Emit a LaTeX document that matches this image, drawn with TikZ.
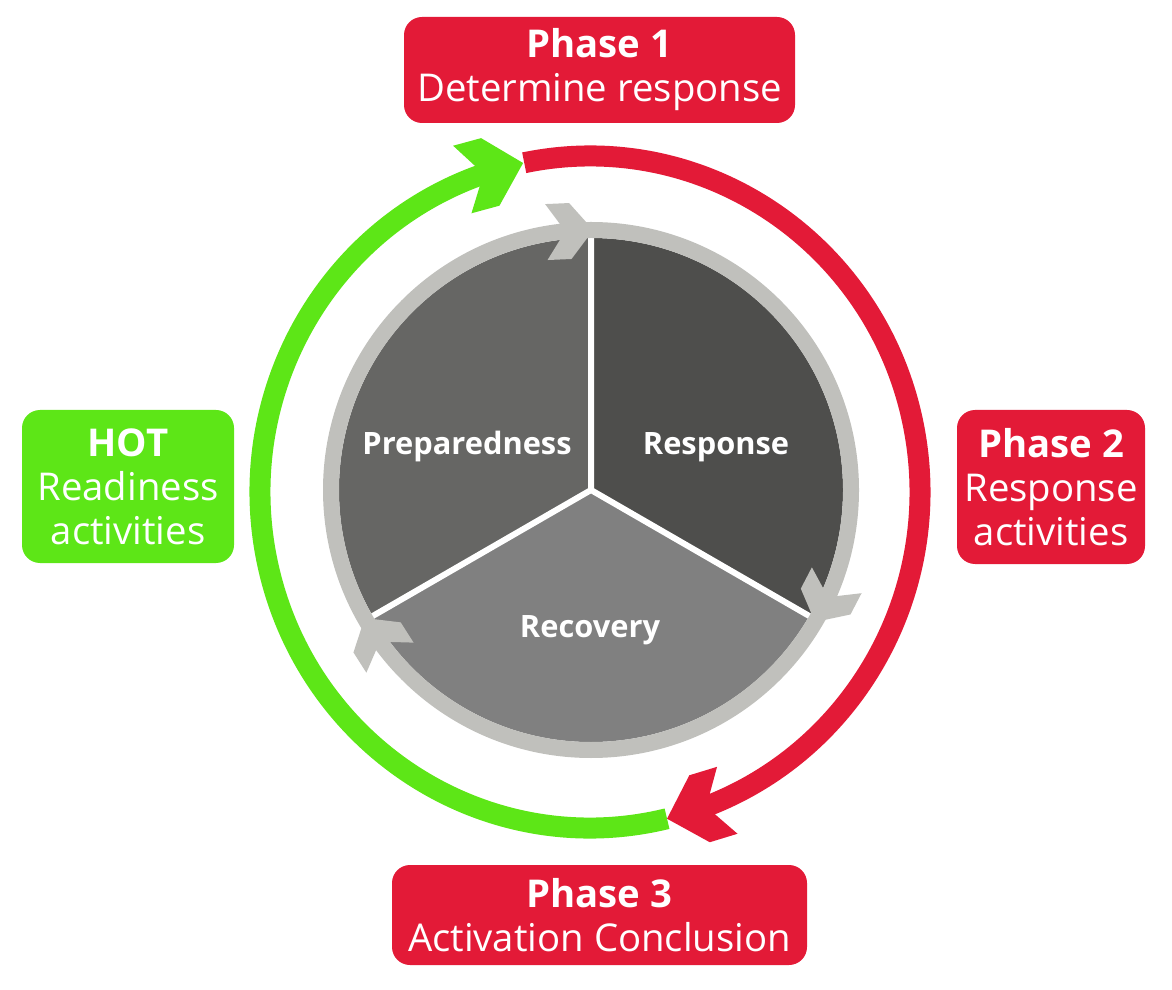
\documentclass[tikz,border=0pt]{standalone}
\usepackage{fontspec}
\setmainfont{Open Sans}
\usetikzlibrary{calc}
\definecolor{myred}{HTML}{E31A37}
\definecolor{mygreen}{HTML}{5DE617}
\definecolor{ringgray}{HTML}{C0C0BC}
\definecolor{pieA}{HTML}{4E4E4C}
\definecolor{pieB}{HTML}{666664}
\definecolor{pieC}{HTML}{808080}
\begin{document}
\begin{tikzpicture}[x=1pt,y=1pt,
  box/.style={rounded corners=18pt, text=white, align=center, inner sep=0pt,
    font=\fontsize{38.3}{44}\selectfont},
  pielabel/.style={text=white, anchor=base, inner sep=0pt,
    font=\bfseries\fontsize{30.8}{35}\selectfont},
]
\useasboundingbox (0,0) rectangle (1172,989);
\coordinate (Co) at (590,497);
\coordinate (Ci) at (591,499);

% pie
\fill[pieA] (Ci) -- ++(90:252) arc[start angle=90,end angle=-30,radius=252] -- cycle;
\fill[pieC] (Ci) -- ++(-30:252) arc[start angle=-30,end angle=-150,radius=252] -- cycle;
\fill[pieB] (Ci) -- ++(210:252) arc[start angle=210,end angle=90,radius=252] -- cycle;
\draw[white,line width=6] (Ci) -- ++(90:256) (Ci) -- ++(-30:256) (Ci) -- ++(210:256);
\fill[white] (Ci) circle[radius=3];

% gray ring
\draw[ringgray,line width=16] (Ci) circle[radius=260];
\coordinate (ga) at ($(Ci)+(89.5:260)$);
\coordinate (gb) at ($(Ci)+(-30.5:260)$);
\coordinate (gc) at ($(Ci)+(-150.5:260)$);
\foreach \p/\r in {ga/2.5, gb/-117.5, gc/122.5}{
  \fill[ringgray,shift={(\p)},rotate=\r] (0,0) -- (-23,28) -- (-47,28) -- (-28,0) -- (-47,-28) -- (-23,-28) -- cycle;
}

% outer cycle
\draw[myred,line width=21] ($(Co)+({330*cos(101.5)},{336*sin(101.5)})$)
  arc[start angle=101.5,end angle=-70,x radius=330,y radius=336];
\draw[mygreen,line width=21] ($(Co)+({330*cos(-76.5)},{336*sin(-76.5)})$)
  arc[start angle=-76.5,end angle=-251.8,x radius=330,y radius=336];
\coordinate (gt) at ($(Co)+({330*cos(101.7)},{336*sin(101.7)})$);
\coordinate (rt) at ($(Co)+({330*cos(-76.5)},{336*sin(-76.5)})$);
\fill[mygreen,shift={(gt)},rotate=15.2] (0,0) -- (-34,35) -- (-63,35) -- (-41,0) -- (-63,-35) -- (-34,-35) -- cycle;
\fill[myred,shift={(rt)},rotate=-163] (0,0) -- (-34,35) -- (-63,35) -- (-41,0) -- (-63,-35) -- (-34,-35) -- cycle;

% pie labels
\node[pielabel] (prep) at (467,534) {Preparedness};
\node[pielabel] (resp) at (716,534) {Response};
\node[pielabel] (reco) at (590,352) {Recovery};

% boxes
\node[box, fill=myred, minimum width=391, minimum height=106] (p1) at (599.5,919)
  {\textbf{Phase 1}\\Determine response};
\node[box, fill=myred, minimum width=188, minimum height=154] (p2) at (1051,502)
  {\textbf{Phase 2}\\Response\\activities};
\node[box, fill=mygreen, minimum width=212, minimum height=153] (hot) at (128,502.5)
  {\textbf{HOT}\\Readiness\\activities};
\node[box, fill=myred, minimum width=415, minimum height=100] (p3) at (599.5,74)
  {\textbf{Phase 3}\\Activation Conclusion};
\end{tikzpicture}
\end{document}
